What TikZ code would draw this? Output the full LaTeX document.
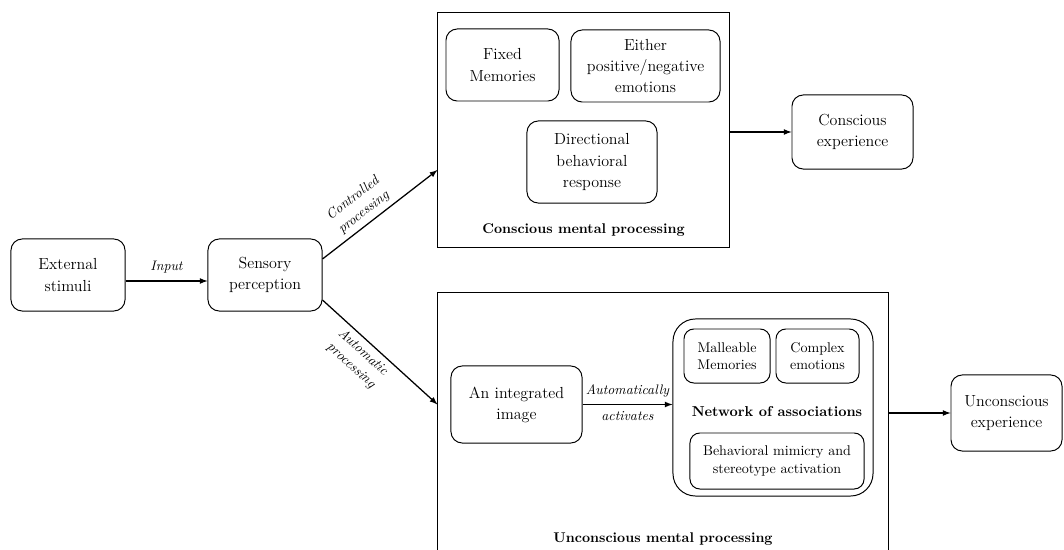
\documentclass[tikz,border=0pt]{standalone}
\usetikzlibrary{positioning,calc}
\tikzset{%
  >=latex, % small filled arrow heads
  box/.style={draw,line width=0.7pt,rounded corners=8pt,align=center,
    font=\fontsize{11.4}{15}\selectfont},%
  smallbox/.style={box,rounded corners=7pt,font=\fontsize{10}{12.3}\selectfont},%
  frame/.style={draw,line width=0.7pt,inner sep=0pt},%
  title/.style={font=\fontsize{10}{12}\selectfont\bfseries},%
  flowlabel/.style={font=\fontsize{9.8}{12.5}\selectfont\itshape,align=center},%
  flow/.style={->,line width=0.9pt}%
}

\begin{document}
\begin{tikzpicture}[x=0.025cm,y=-0.025cm] % one unit = one pixel of the sketch

\path[use as bounding box,clip] (0,0) rectangle (1064,550);

% left part
\node[box,minimum width=2.85cm,minimum height=1.8cm] (stimuli) at (68,275) {External\\stimuli};
\node[box,minimum width=2.85cm,minimum height=1.8cm] (sensory) at (265,275) {Sensory\\perception};

% conscious part
\node[frame,minimum width=7.275cm,minimum height=5.85cm] (conscious) at (583.5,130) {};
\node[box,minimum width=2.825cm,minimum height=1.8cm] (fixed) at (502.5,65) {Fixed\\Memories};
\node[box,minimum width=3.725cm,minimum height=1.8cm] (either) at (645.5,66) {Either\\positive/negative\\emotions};
\node[box,minimum width=3.25cm,minimum height=2.05cm] (direct) at (592,162) {Directional\\behavioral\\response};
\node[title] (ctitle) at (583.5,230) {Conscious mental processing};
\node[box,minimum width=3.025cm,minimum height=1.85cm] (cexp) at (852.5,132) {Conscious\\experience};

% unconscious part
\node[frame,minimum width=11.25cm,minimum height=6.925cm] (unconscious) at (663,431.5) {};
\node[box,minimum width=3.275cm,minimum height=1.925cm] (image) at (516.5,404.5) {An integrated\\image};
\node[draw,line width=0.7pt,rounded corners=16pt,minimum width=5cm,minimum height=4.425cm] (network) at (773,407.5) {};
\node[smallbox,minimum width=2.15cm,minimum height=1.35cm] (malleable) at (727,356) {Malleable\\Memories};
\node[smallbox,minimum width=2.075cm,minimum height=1.35cm] (complex) at (817.5,356) {Complex\\emotions};
\node[title,font=\fontsize{10.2}{12}\selectfont\bfseries] (ntitle) at (777,412) {Network of associations};
\node[smallbox,minimum width=4.35cm,minimum height=1.4cm] (mimicry) at (777,461) {Behavioral mimicry and\\stereotype activation};
\node[title] (utitle) at (663,539) {Unconscious mental processing};
\node[box,minimum width=2.775cm,minimum height=1.9cm] (uexp) at (1006.5,413) {Unconscious\\experience};

% connectors
\draw[flow] ([yshift=-0.15cm]stimuli.east) -- node[flowlabel,above=2pt] {Input}
    ([yshift=-0.15cm]sensory.west);
\draw[flow] ([yshift=0.4cm]sensory.east) -- node[flowlabel,sloped,above,pos=0.42] {Controlled\\processing}
    ([yshift=-1cm]conscious.west);
\draw[flow] ([yshift=-0.625cm]sensory.east) -- node[flowlabel,sloped,below,pos=0.42] {Automatic\\processing}
    (unconscious.west |- image.west);
\draw[flow] (conscious.east |- cexp.west) -- (cexp.west);
\draw[flow] (image.east) -- node[flowlabel,above=1pt] {Automatically}
    node[flowlabel,below=1pt] {activates} (image.east -| network.west);
\draw[flow] (unconscious.east |- uexp.west) -- (uexp.west);

\end{tikzpicture}
\end{document}
